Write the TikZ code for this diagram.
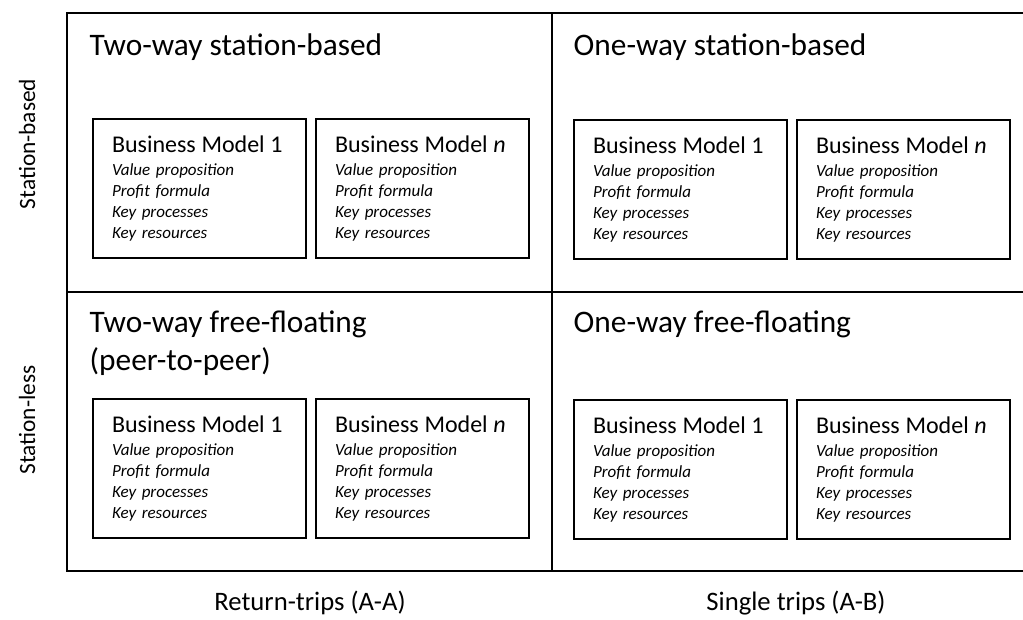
\documentclass[tikz,border=0pt]{standalone}
\usepackage{fontspec}
\setmainfont{Carlito}

\newcommand{\bmhead}{\fontsize{18}{18}\selectfont\upshape}
\newcommand{\bmlist}[1]{{\bmhead Business Model #1}\\[1.5pt]
  Value proposition\\ Profit formula\\ Key processes\\ Key resources}

\begin{document}
\begin{tikzpicture}[x=0.75pt, y=-0.75pt]

  \tikzstyle{frame}   = [black, line width=2pt]
  \tikzstyle{quad}    = [anchor=base west, align=left, font=\fontsize{23.5}{28.5}\selectfont]
  \tikzstyle{bmbox}   = [draw, line width=1.5pt, anchor=north west, align=left,
                         text width=131.25pt, inner xsep=14.25pt, inner ysep=0pt,
                         minimum height=104.25pt,
                         font=\fontsize{12.75}{15.75}\selectfont\itshape]
  \tikzstyle{axlbl}   = [anchor=base, font=\fontsize{17.5}{20}\selectfont]
  \tikzstyle{trlbl}   = [anchor=base, font=\fontsize{20}{22}\selectfont]

  \useasboundingbox (0,0) rectangle (1023,619);

  % ---- FRAME ----
  \draw[frame] (1023,13) -- (67,13) -- (67,571) -- (1023,571);
  \draw[frame] (67,292) -- (1023,292);
  \draw[frame] (552,13) -- (552,571);

  % ---- AXIS LABELS ----
  \node[axlbl, rotate=90] (based) at (35,144) {Station-based};
  \node[axlbl, rotate=90] (less)  at (35,420) {Station-less};
  \node[trlbl] (ret) at (310,610) {Return-trips (A-A)};
  \node[trlbl] (sgl) at (796,610) {Single trips (A-B)};

  % ---- QUADRANTS ----

  % Top left: two-way station-based
  \node[quad] (twsb) at (85,55) {Two-way station-based};
  \node[bmbox] (twsb1) at (92,118) {\bmlist{1}};
  \node[bmbox] (twsbn) at (315,118) {\bmlist{\textit{n}}};

  % Top right: one-way station-based
  \node[quad] (owsb) at (569,55) {One-way station-based};
  \node[bmbox] (owsb1) at (573,119) {\bmlist{1}};
  \node[bmbox] (owsbn) at (796,119) {\bmlist{\textit{n}}};

  % Bottom left: two-way free-floating (base = last line)
  \node[quad] (twff) at (85,370) {Two-way free-floating\\(peer-to-peer)};
  \node[bmbox] (twff1) at (92,398) {\bmlist{1}};
  \node[bmbox] (twffn) at (315,398) {\bmlist{\textit{n}}};

  % Bottom right: one-way free-floating
  \node[quad] (owff) at (569,332) {One-way free-floating};
  \node[bmbox] (owff1) at (573,399) {\bmlist{1}};
  \node[bmbox] (owffn) at (796,399) {\bmlist{\textit{n}}};

\end{tikzpicture}
\end{document}
